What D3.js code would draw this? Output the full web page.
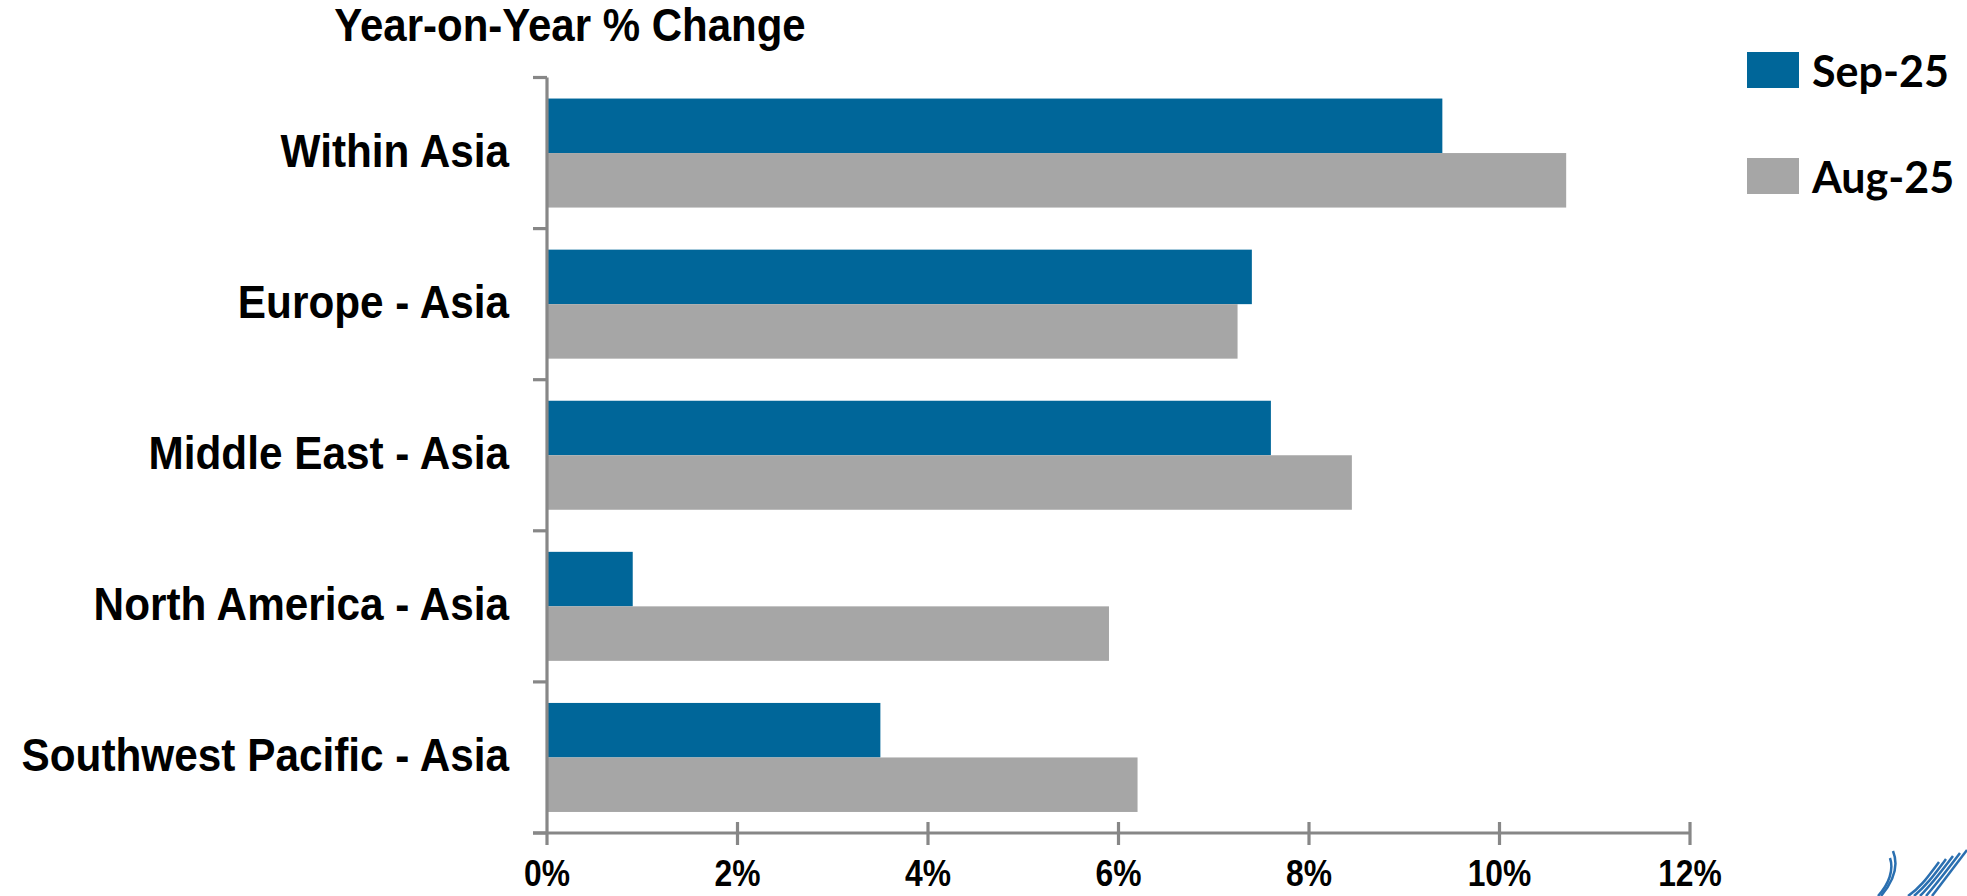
<!DOCTYPE html>
<html>
<head>
	<meta charset="utf-8">
	<title>Year-on-Year % Change</title>
	<style type="text/css">
body {
  margin: 0;
  background: #fff;
}
text {
  font-family: "Liberation Sans", Arial, sans-serif;
  font-weight: bold;
  fill: #000;
}
.legend text {
  font-family: Lato, "Open Sans", sans-serif;
}
	</style>
</head>
<body>
	<svg width="1967" height="896"></svg>

	<script src="https://d3js.org/d3.v7.min.js"></script>
	<script>
		// chart data
		var categories = ["Within Asia", "Europe - Asia", "Middle East - Asia", "North America - Asia", "Southwest Pacific - Asia"]
		var seriesNames = ["Sep-25", "Aug-25"]
		var sep25 = [9.4, 7.4, 7.6, 0.9, 3.5]
		var aug25 = [10.7, 7.25, 8.45, 5.9, 6.2]
		var xTicks = [0, 2, 4, 6, 8, 10, 12]
		var colors = ["#006699", "#a6a6a6"]

		var svg = d3.select("svg")
		var axisColor = "#878787"

		// plot box (note: "top" is reserved on window, so use p* names)
		var pLeft = 547, pRight = 1690, pTop = 77.5, pBottom = 833

		var x = d3.scaleLinear().domain([0, 12]).range([pLeft, pRight])
		var y = d3.scaleBand().domain(categories).range([pTop, pBottom]).paddingInner(0).paddingOuter(0)
		var ySub = d3.scaleBand().domain(seriesNames).range([0, y.bandwidth()]).paddingInner(0).paddingOuter(0.386)

		var rows = categories.map(function(c, i) {
			return { cat: c, values: [sep25[i], aug25[i]] }
		})

		// title
		svg.append("text")
			.attr("transform", "translate(570,41) scale(1,1.08)")
			.attr("text-anchor", "middle")
			.style("font-size", "42px")
			.text("Year-on-Year % Change")

		// bars
		var group = svg.append("g").selectAll("g")
			.data(rows)
			.enter().append("g")
				.attr("transform", function(d) { return "translate(0," + y(d.cat) + ")" })

		group.selectAll("rect")
			.data(function(d) { return d.values.map(function(v, j) { return { name: seriesNames[j], v: v, j: j } }) })
			.enter().append("rect")
				.attr("x", x(0))
				.attr("y", function(d) { return ySub(d.name) })
				.attr("width", function(d) { return x(d.v) - x(0) })
				.attr("height", ySub.bandwidth())
				.attr("fill", function(d) { return colors[d.j] })

		// y axis (category labels, ticks at band edges)
		var yAxis = svg.append("g")
		yAxis.append("line")
			.attr("x1", pLeft).attr("x2", pLeft)
			.attr("y1", pTop).attr("y2", pBottom + 12)
			.attr("stroke", axisColor).attr("stroke-width", 3.2)

		var edges = categories.map(function(c) { return y(c) }).concat([pBottom])
		yAxis.selectAll("line.tick")
			.data(edges)
			.enter().append("line")
				.attr("class", "tick")
				.attr("x1", pLeft - 14).attr("x2", pLeft)
				.attr("y1", function(d) { return d }).attr("y2", function(d) { return d })
				.attr("stroke", axisColor).attr("stroke-width", 3.2)

		yAxis.selectAll("text")
			.data(categories)
			.enter().append("text")
				.attr("transform", function(d) {
					return "translate(509," + (y(d) + y.bandwidth() / 2 + 14) + ") scale(0.92,1)"
				})
				.attr("text-anchor", "end")
				.style("font-size", "46px")
				.text(function(d) { return d })

		// x axis
		var xAxis = svg.append("g")
		xAxis.append("line")
			.attr("x1", pLeft - 14).attr("x2", pRight)
			.attr("y1", pBottom).attr("y2", pBottom)
			.attr("stroke", axisColor).attr("stroke-width", 3.2)

		xAxis.selectAll("line.tick")
			.data(xTicks.slice(1))
			.enter().append("line")
				.attr("class", "tick")
				.attr("x1", function(d) { return x(d) }).attr("x2", function(d) { return x(d) })
				.attr("y1", pBottom - 11).attr("y2", pBottom + 12)
				.attr("stroke", axisColor).attr("stroke-width", 3.2)

		xAxis.selectAll("text")
			.data(xTicks)
			.enter().append("text")
				.attr("transform", function(d) { return "translate(" + x(d) + ",886) scale(0.86,1)" })
				.attr("text-anchor", "middle")
				.style("font-size", "37px")
				.text(function(d) { return d + "%" })

		// legend
		var legend = svg.append("g").attr("class", "legend")
		var item = legend.selectAll("g")
			.data(seriesNames)
			.enter().append("g")
				.attr("transform", function(d, i) { return "translate(1747," + (52 + i * 106) + ")" })
		item.append("rect")
			.attr("width", 52).attr("height", 36)
			.attr("fill", function(d, i) { return colors[i] })
		item.append("text")
			.attr("x", 65).attr("y", 35)
			.style("font-size", "43px")
			.text(function(d) { return d })

		// corner logo swoosh (partly cut off)
		var logo = svg.append("g")
			.attr("fill", "none")
			.attr("stroke", "#2a6fb0")
			.attr("stroke-width", 2.5)
		logo.append("path").attr("d", "M1893,851 C1899,866 1893,882 1881,896")
		logo.append("path").attr("d", "M1890,858 C1894,870 1889,884 1878,896")
		for (var k = 0; k < 5; k++) {
			logo.append("path")
				.attr("d", "M" + (1967 - k * 7) + "," + (850 + k * 3) + " C" + (1955 - k * 7) + "," + (866 + k * 3) + " " + (1944 - k * 6) + "," + (880 + k * 2) + " " + (1932 - k * 6) + ",896")
		}
	</script>
</body>
</html>
